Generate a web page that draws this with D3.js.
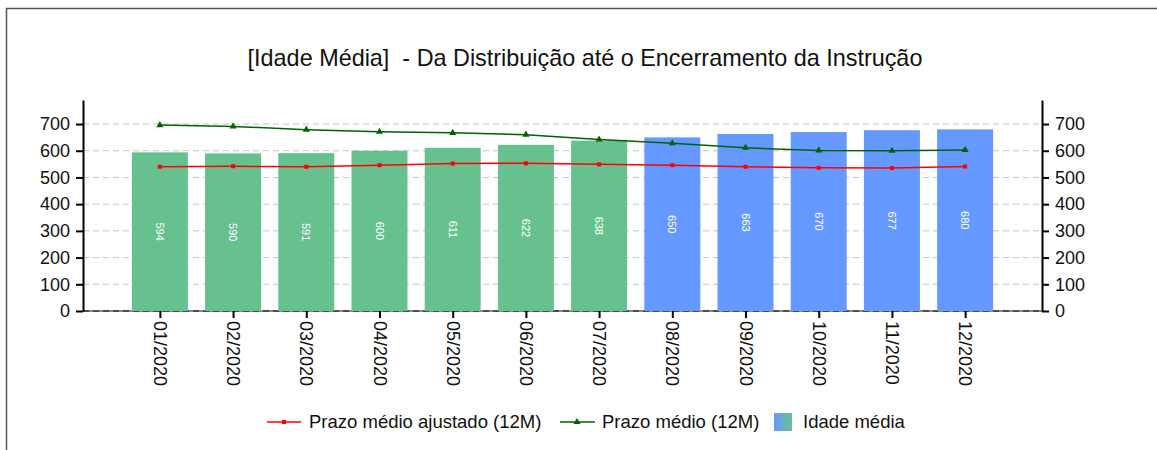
<!DOCTYPE html>
<meta charset="utf-8">
<title>Idade Media</title>
<style>
body { margin: 0; background: #fff; }
text { font-family: "Liberation Sans", Arial, sans-serif; }
</style>
<script src="https://d3js.org/d3.v7.min.js"></script>
<div id="chart"></div>
<script>

var months = ["01/2020","02/2020","03/2020","04/2020","05/2020","06/2020",
              "07/2020","08/2020","09/2020","10/2020","11/2020","12/2020"];
var idadeMedia = [594, 590, 591, 600, 611, 622, 638, 650, 663, 670, 677, 680];
var prazoMedio = [696, 691, 679, 671, 667, 660, 642, 628, 611, 601, 600, 603];
var prazoAjustado = [540, 542, 540, 546, 552, 553, 549, 546, 540, 536, 535, 541];
var realizado = 7;   // first 7 months are green, rest blue
var yTicks = [0, 100, 200, 300, 400, 500, 600, 700];

var width = 1157, height = 450,
    plotLeft = 83, plotRight = 1042, plotTop = 100, plotBottom = 311;

var green = "#66c18f", blue = "#6699ff";

var svg = d3.select("#chart").append("svg")
    .attr("width", width)
    .attr("height", height);

// frame
svg.append("rect")
    .attr("x", 6.5).attr("y", 8.5)
    .attr("width", 1300).attr("height", 600)
    .attr("fill", "none")
    .attr("stroke", "#555")
    .attr("stroke-width", 1.5);

svg.append("text")
    .attr("x", 585).attr("y", 66)
    .attr("text-anchor", "middle")
    .style("font-size", "23.4px")
    .style("white-space", "pre")
    .attr("fill", "#111")
    .text("[Idade Média]  - Da Distribuição até o Encerramento da Instrução");

var x = d3.scalePoint()
    .domain(months)
    .range([plotLeft, plotRight])
    .padding(1.05);

var y = d3.scaleLinear()
    .domain([0, 790])
    .range([plotBottom, plotTop]);

// grid
svg.append("g").selectAll("line")
    .data(yTicks.filter(function(d) { return d > 0; }))
    .enter().append("line")
    .attr("x1", plotLeft).attr("x2", plotRight)
    .attr("y1", function(d) { return y(d); })
    .attr("y2", function(d) { return y(d); })
    .attr("stroke", "#c4c4c4")
    .attr("stroke-width", 1)
    .attr("stroke-dasharray", "6,4");

svg.append("line")
    .attr("x1", plotLeft).attr("x2", plotRight)
    .attr("y1", y(0)).attr("y2", y(0))
    .attr("stroke", "#888").attr("stroke-width", 2);
svg.append("line")
    .attr("x1", plotLeft).attr("x2", plotRight)
    .attr("y1", y(0)).attr("y2", y(0))
    .attr("stroke", "#111").attr("stroke-width", 1.2)
    .attr("stroke-dasharray", "6,4");

// bars
var barW = 56;
svg.append("g").selectAll("rect")
    .data(idadeMedia)
    .enter().append("rect")
    .attr("x", function(d, i) { return x(months[i]) - barW / 2; })
    .attr("y", function(d) { return y(d); })
    .attr("width", barW)
    .attr("height", function(d) { return y(0) - y(d); })
    .attr("fill", function(d, i) { return i < realizado ? green : blue; });

svg.append("g").selectAll("text")
    .data(idadeMedia)
    .enter().append("text")
    .attr("transform", function(d, i) {
        return "translate(" + x(months[i]) + "," + y(d / 2) + ") rotate(90)";
    })
    .attr("text-anchor", "middle")
    .attr("dy", "0.35em")
    .attr("fill", "#fff")
    .style("font-size", "11px")
    .text(function(d) { return d; });

// lines
var line = d3.line()
    .x(function(d, i) { return x(months[i]); })
    .y(function(d) { return y(d); });

svg.append("path")
    .datum(prazoMedio)
    .attr("d", line)
    .attr("fill", "none")
    .attr("stroke", "#006400")
    .attr("stroke-width", 1.5);

svg.append("path")
    .datum(prazoAjustado)
    .attr("d", line)
    .attr("fill", "none")
    .attr("stroke", "#ff0000")
    .attr("stroke-width", 1.5);

var tri = d3.symbol().type(d3.symbolTriangle).size(22);
svg.append("g").selectAll("path")
    .data(prazoMedio)
    .enter().append("path")
    .attr("d", tri)
    .attr("transform", function(d, i) { return "translate(" + x(months[i]) + "," + y(d) + ")"; })
    .attr("fill", "#006400");

svg.append("g").selectAll("rect")
    .data(prazoAjustado)
    .enter().append("rect")
    .attr("x", function(d, i) { return x(months[i]) - 2; })
    .attr("y", function(d) { return y(d) - 2; })
    .attr("width", 4).attr("height", 4)
    .attr("fill", "#ff0000");

// axes
function styleAxis(g) {
  g.selectAll("path").attr("stroke", "#000").attr("stroke-width", 2);
  g.selectAll("line").attr("stroke", "#000").attr("stroke-width", 2);
  g.selectAll("text")
      .style("font-size", "18px")
      .style("font-family", "'Liberation Sans', Arial, sans-serif")
      .attr("fill", "#111");
}

svg.append("g")
    .attr("transform", "translate(" + plotLeft + ",0)")
    .call(d3.axisLeft(y).tickValues(yTicks).tickSize(7).tickSizeOuter(0).tickPadding(6))
    .call(styleAxis);

svg.append("g")
    .attr("transform", "translate(" + plotRight + ",0)")
    .call(d3.axisRight(y).tickValues(yTicks).tickSize(7).tickSizeOuter(0).tickPadding(6))
    .call(styleAxis);

var xAxis = svg.append("g")
    .attr("transform", "translate(0," + plotBottom + ")")
    .call(d3.axisBottom(x).tickSize(7).tickSizeOuter(0))
    .call(styleAxis);
xAxis.select(".domain").remove();
xAxis.selectAll("text")
    .attr("transform", "rotate(90)")
    .attr("x", 10).attr("y", 0)
    .attr("dy", "0.35em")
    .style("text-anchor", "start");

// legend
var lg = svg.append("g").attr("transform", "translate(0,422)");
lg.append("line").attr("x1", 267).attr("x2", 301)
    .attr("stroke", "#ff0000").attr("stroke-width", 1.5);
lg.append("rect").attr("x", 282).attr("y", -2).attr("width", 4).attr("height", 4)
    .attr("fill", "#ff0000");
lg.append("text").attr("x", 309).attr("dy", "0.35em")
    .style("font-size", "18.5px").attr("fill", "#111")
    .text("Prazo médio ajustado (12M)");

lg.append("line").attr("x1", 560).attr("x2", 595)
    .attr("stroke", "#006400").attr("stroke-width", 1.5);
lg.append("path").attr("d", tri).attr("transform", "translate(577,0)")
    .attr("fill", "#006400");
lg.append("text").attr("x", 602).attr("dy", "0.35em")
    .style("font-size", "18.5px").attr("fill", "#111")
    .text("Prazo médio (12M)");

var grad = svg.append("defs").append("linearGradient")
    .attr("id", "legGrad");
grad.append("stop").attr("offset", "0%").attr("stop-color", blue);
grad.append("stop").attr("offset", "100%").attr("stop-color", green);
lg.append("rect").attr("x", 774).attr("y", -9).attr("width", 18).attr("height", 18)
    .attr("fill", "url(#legGrad)");
lg.append("text").attr("x", 803).attr("dy", "0.35em")
    .style("font-size", "18.5px").attr("fill", "#111")
    .text("Idade média");

</script>
